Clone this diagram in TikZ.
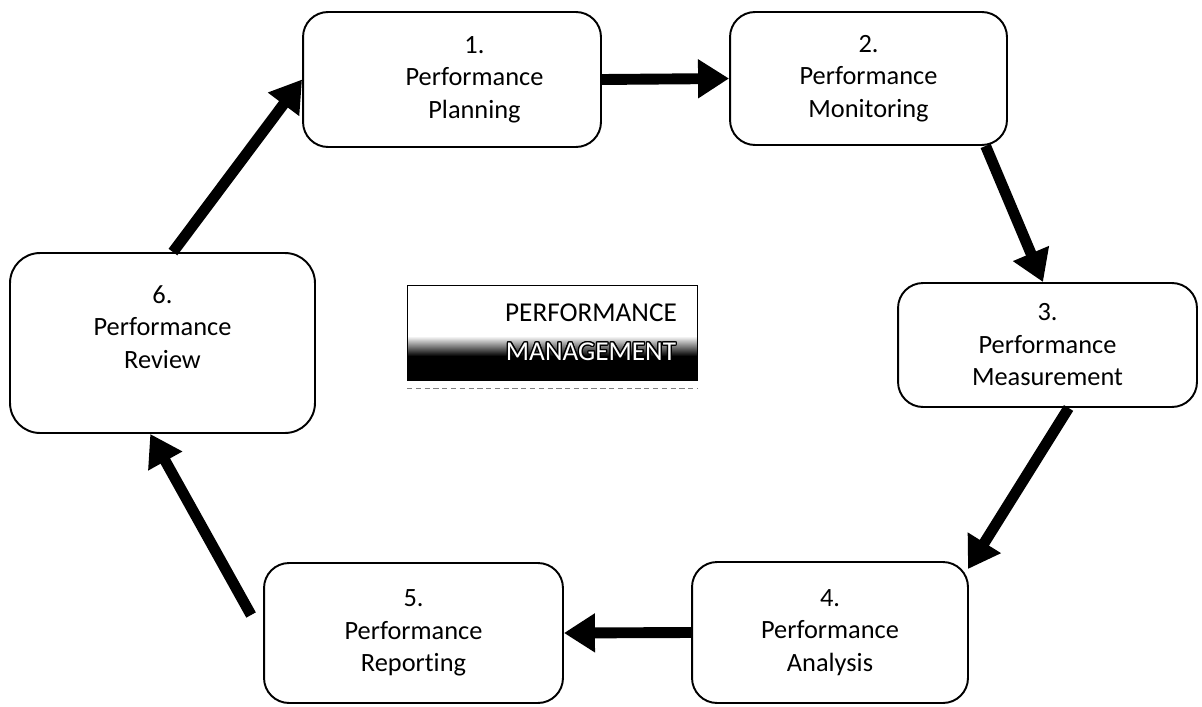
\documentclass[tikz,border=0pt]{standalone}
\usepackage{fontspec}
\setmainfont{Carlito}[Ligatures=NoCommon]
\usepackage{contour}
\contourlength{0.7pt}
\usetikzlibrary{arrows.meta,calc}

\begin{document}
\begin{tikzpicture}[x=0.02cm,y=-0.02cm]
\useasboundingbox (0,0) rectangle (1202,706);

\coordinate (P1) at (452, 79.5);
\coordinate (P2) at (868.5, 78.5);
\coordinate (P3) at (1047.5, 345);
\coordinate (P4) at (830, 632.5);
\coordinate (P5) at (413.5, 633);
\coordinate (P6) at (162.5, 343);
\coordinate (M1) at (407, 285);
\coordinate (M2) at (697, 380);


\fill[white] (M1) rectangle (M2);
\shade[top color=white, bottom color=black] (407, 336) rectangle (697, 356);
\fill[black] (407, 356) rectangle (M2);
\draw[thin] (M1) rectangle (M2);
\draw[gray, densely dashed, thin] (407, 388) -- (697, 388);
\node[align=center, font=\fontsize{15.5}{19}\selectfont] (PM) at (591, 333)
 {PERFORMANCE\\[3pt]{\color{white}\contour{black}{MANAGEMENT}}};


\tikzset{StageStyle/.style = {
 draw,
 rounded corners = 0.5cm,
 line width = 1.1pt,
 align = center,
 inner sep = 0pt,
 font = \fontsize{15}{18.5}\selectfont} }

\node[StageStyle, minimum width=5.96cm, minimum height=2.70cm] (B1) at (P1)
 {\hspace*{0.9cm}1.\\\hspace*{0.9cm}Performance\\\hspace*{0.9cm}Planning};
\node[StageStyle, minimum width=5.54cm, minimum height=2.66cm] (B2) at (P2)
 {2.\\Performance\\Monitoring};
\node[StageStyle, minimum width=5.98cm, minimum height=2.48cm] (B3) at (P3)
 {3.\\Performance\\Measurement};
\node[StageStyle, minimum width=5.52cm, minimum height=2.82cm] (B4) at (P4)
 {4.\\Performance\\Analysis};
\node[StageStyle, minimum width=5.98cm, minimum height=2.80cm] (B5) at (P5)
 {5.\\Performance\\Reporting};
\node[StageStyle, rounded corners=0.6cm, minimum width=6.10cm, minimum height=3.60cm] (B6) at (P6)
 {6.\\Performance\\Review\\\mbox{}};


\tikzset{FlowStyle/.style = {
 line width = 6.2pt,
 -{Triangle[length=0.62cm, width=0.74cm]}} }

\draw[FlowStyle] (B1.east) -- (B2.west);
\draw[FlowStyle] ($(B2.south west)!0.92!(B2.south east)$) -- ($(B3.north west)!0.485!(B3.north east)$);
\draw[FlowStyle] ($(B3.south west)!0.57!(B3.south east)$) -- ($(B4.north east)+(-1, 8)$);
\draw[FlowStyle] (B4.west) -- (B5.east);
\draw[FlowStyle] ($(B5.west)+(-12, -18)$) -- ($(B6.south west)!0.46!(B6.south east)$);
\draw[FlowStyle] ($(B6.north west)!0.534!(B6.north east)$) -- (B1.west);

\end{tikzpicture}
\end{document}
